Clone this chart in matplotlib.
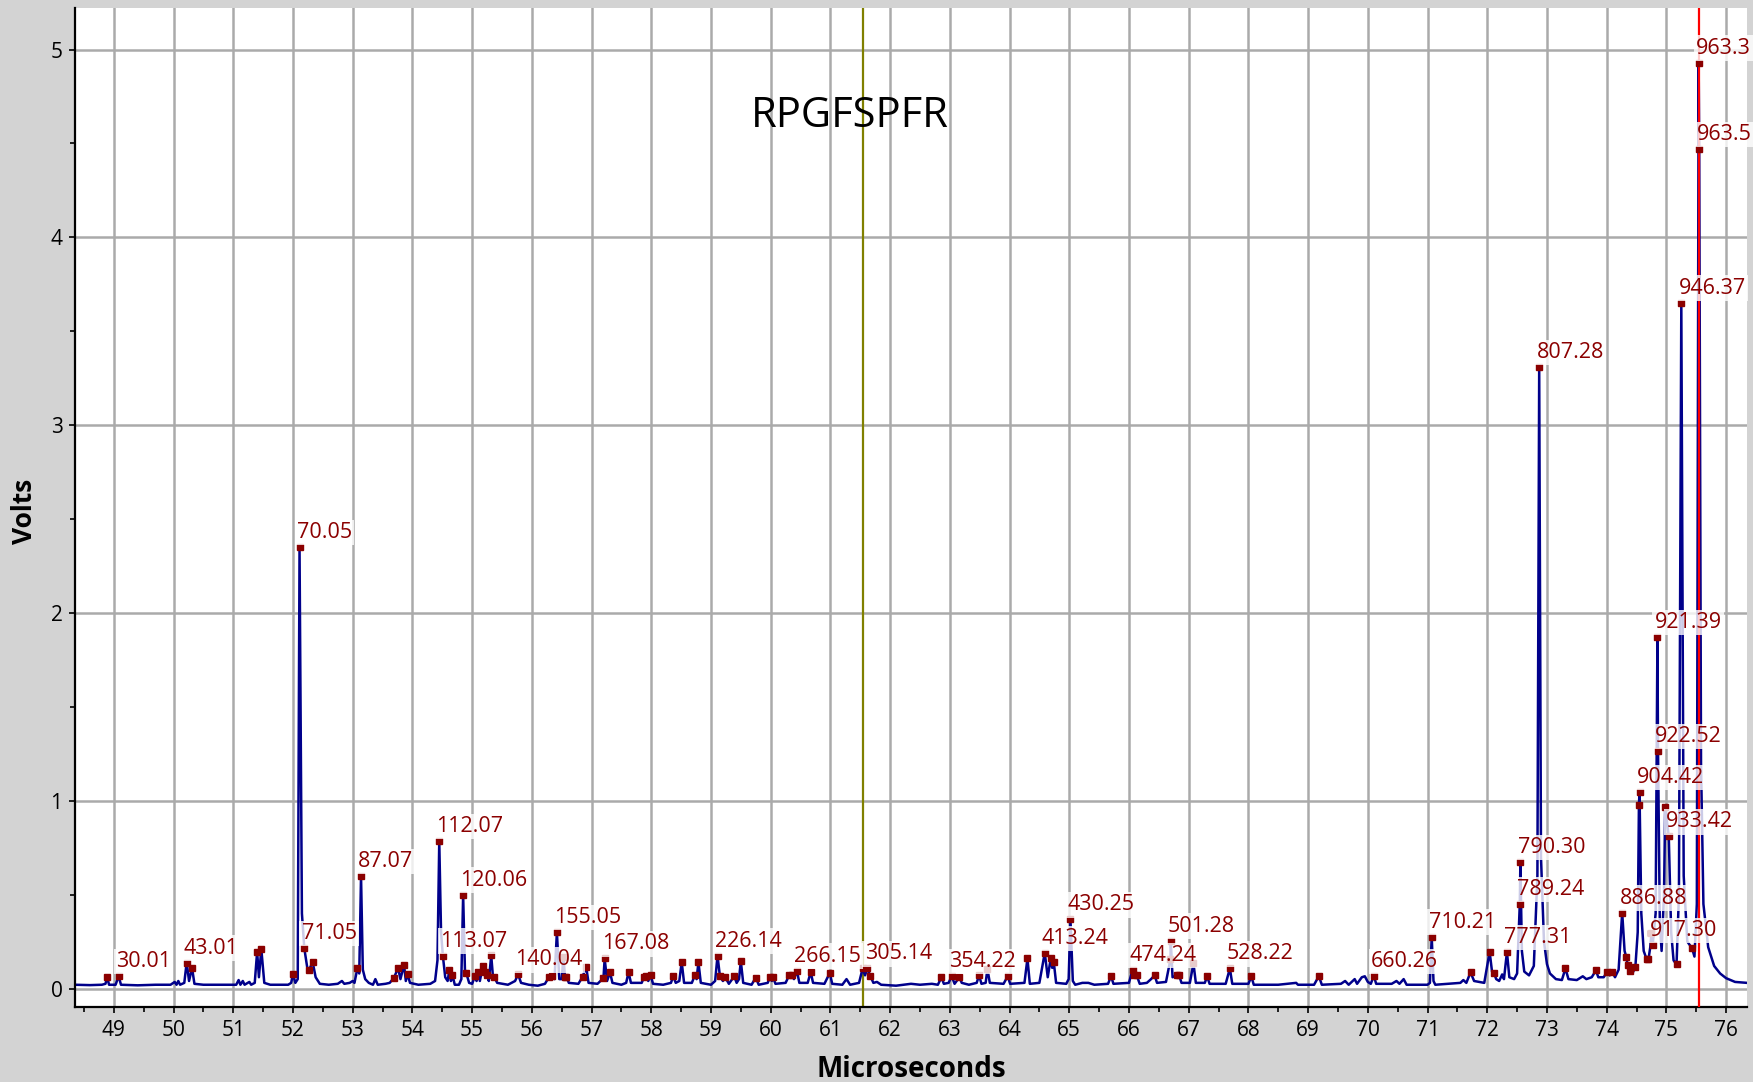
import matplotlib
matplotlib.use("Agg")
import matplotlib.pyplot as plt
from matplotlib.ticker import MultipleLocator

plt.rcParams['font.family'] = ['Open Sans', 'DejaVu Sans']

# ---------------- data ----------------
title_text = "RPGFSPFR"
x_label = "Microseconds"
y_label = "Volts"

# spectrum trace (microseconds, volts)
trace_points = [
    (48.35, 0.02), (48.60, 0.018), (48.80, 0.02), (48.86, 0.025), (48.89, 0.06), (48.92, 0.02),
    (49.03, 0.02), (49.08, 0.066), (49.12, 0.02), (49.40, 0.017), (49.70, 0.02), (49.95, 0.02),
    (50.02, 0.035), (50.05, 0.02), (50.08, 0.04), (50.11, 0.02), (50.18, 0.03), (50.22, 0.138),
    (50.26, 0.04), (50.31, 0.11), (50.35, 0.025), (50.50, 0.02), (50.80, 0.02), (51.05, 0.02),
    (51.09, 0.045), (51.12, 0.02), (51.16, 0.04), (51.19, 0.02), (51.27, 0.035), (51.30, 0.02),
    (51.36, 0.03), (51.40, 0.196), (51.43, 0.06), (51.47, 0.21), (51.52, 0.03), (51.62, 0.02),
    (51.92, 0.02), (51.97, 0.03), (52.00, 0.077), (52.04, 0.03), (52.08, 0.05), (52.11, 2.35),
    (52.15, 0.40), (52.19, 0.214), (52.24, 0.11), (52.27, 0.10), (52.33, 0.141), (52.38, 0.06),
    (52.45, 0.025), (52.60, 0.02), (52.75, 0.025), (52.82, 0.04), (52.86, 0.025), (52.95, 0.03),
    (53.00, 0.04), (53.03, 0.03), (53.08, 0.109), (53.11, 0.08), (53.14, 0.60), (53.17, 0.10),
    (53.21, 0.05), (53.27, 0.03), (53.34, 0.02), (53.38, 0.05), (53.42, 0.02), (53.55, 0.025),
    (53.62, 0.03), (53.69, 0.056), (53.76, 0.109), (53.80, 0.05), (53.86, 0.127), (53.89, 0.04),
    (53.92, 0.077), (53.96, 0.03), (54.10, 0.02), (54.30, 0.025), (54.38, 0.04), (54.42, 0.15),
    (54.45, 0.786), (54.48, 0.30), (54.51, 0.175), (54.55, 0.06), (54.59, 0.04), (54.62, 0.10),
    (54.645, 0.04), (54.67, 0.072), (54.71, 0.02), (54.78, 0.02), (54.82, 0.05), (54.85, 0.50),
    (54.88, 0.10), (54.90, 0.085), (54.95, 0.03), (55.00, 0.025), (55.05, 0.067), (55.075, 0.04),
    (55.10, 0.088), (55.13, 0.04), (55.18, 0.12), (55.21, 0.088), (55.25, 0.07), (55.28, 0.04),
    (55.32, 0.177), (55.35, 0.06), (55.37, 0.062), (55.42, 0.03), (55.60, 0.02), (55.72, 0.04),
    (55.77, 0.075), (55.82, 0.03), (55.95, 0.02), (56.10, 0.015), (56.22, 0.025), (56.29, 0.062),
    (56.34, 0.066), (56.38, 0.05), (56.42, 0.30), (56.46, 0.05), (56.50, 0.05), (56.53, 0.17),
    (56.555, 0.06), (56.58, 0.062), (56.62, 0.03), (56.78, 0.025), (56.85, 0.062), (56.91, 0.117),
    (56.95, 0.03), (57.10, 0.025), (57.20, 0.055), (57.22, 0.16), (57.26, 0.04), (57.31, 0.086),
    (57.35, 0.03), (57.50, 0.02), (57.58, 0.03), (57.62, 0.087), (57.66, 0.03), (57.84, 0.03),
    (57.88, 0.06), (57.92, 0.065), (57.95, 0.04), (57.99, 0.07), (58.03, 0.025), (58.20, 0.02),
    (58.33, 0.03), (58.37, 0.066), (58.41, 0.03), (58.47, 0.04), (58.51, 0.141), (58.55, 0.03),
    (58.68, 0.03), (58.73, 0.07), (58.76, 0.05), (58.79, 0.141), (58.83, 0.03), (59.00, 0.02),
    (59.07, 0.04), (59.11, 0.175), (59.15, 0.065), (59.20, 0.04), (59.24, 0.06), (59.30, 0.025),
    (59.39, 0.065), (59.43, 0.03), (59.47, 0.05), (59.50, 0.146), (59.54, 0.03), (59.68, 0.02),
    (59.75, 0.058), (59.80, 0.02), (59.95, 0.03), (59.99, 0.06), (60.02, 0.04), (60.04, 0.06),
    (60.08, 0.025), (60.25, 0.03), (60.31, 0.07), (60.35, 0.07), (60.39, 0.05), (60.44, 0.095),
    (60.48, 0.03), (60.62, 0.03), (60.67, 0.087), (60.71, 0.03), (60.90, 0.025), (60.99, 0.083),
    (61.03, 0.025), (61.20, 0.02), (61.27, 0.05), (61.33, 0.02), (61.48, 0.03), (61.54, 0.107),
    (61.58, 0.07), (61.62, 0.107), (61.67, 0.066), (61.72, 0.03), (61.78, 0.035), (61.85, 0.02),
    (62.10, 0.015), (62.35, 0.025), (62.50, 0.02), (62.70, 0.025), (62.80, 0.02), (62.86, 0.06),
    (62.90, 0.025), (62.98, 0.03), (63.03, 0.066), (63.08, 0.025), (63.16, 0.06), (63.20, 0.03),
    (63.32, 0.02), (63.45, 0.03), (63.49, 0.07), (63.53, 0.025), (63.60, 0.03), (63.63, 0.104),
    (63.67, 0.03), (63.90, 0.025), (63.97, 0.066), (64.01, 0.025), (64.25, 0.03), (64.30, 0.16),
    (64.34, 0.025), (64.50, 0.03), (64.59, 0.19), (64.64, 0.06), (64.69, 0.16), (64.715, 0.11),
    (64.74, 0.143), (64.78, 0.03), (64.95, 0.025), (64.99, 0.05), (65.02, 0.368), (65.06, 0.04),
    (65.10, 0.02), (65.22, 0.03), (65.32, 0.03), (65.42, 0.02), (65.65, 0.025), (65.70, 0.066),
    (65.74, 0.025), (66.00, 0.03), (66.06, 0.10), (66.09, 0.07), (66.13, 0.07), (66.18, 0.025),
    (66.30, 0.03), (66.37, 0.05), (66.43, 0.07), (66.47, 0.03), (66.62, 0.035), (66.695, 0.155),
    (66.70, 0.255), (66.73, 0.06), (66.80, 0.07), (66.84, 0.07), (66.88, 0.03), (67.02, 0.03),
    (67.08, 0.134), (67.12, 0.03), (67.27, 0.03), (67.31, 0.064), (67.35, 0.025), (67.62, 0.025),
    (67.69, 0.107), (67.73, 0.025), (68.00, 0.025), (68.05, 0.064), (68.09, 0.02), (68.50, 0.02),
    (68.80, 0.03), (68.83, 0.02), (69.10, 0.02), (69.18, 0.066), (69.23, 0.02), (69.55, 0.025),
    (69.62, 0.04), (69.68, 0.02), (69.78, 0.05), (69.82, 0.025), (69.90, 0.06), (69.95, 0.065),
    (70.00, 0.035), (70.05, 0.025), (70.10, 0.068), (70.14, 0.025), (70.40, 0.025), (70.48, 0.04),
    (70.53, 0.025), (70.60, 0.05), (70.65, 0.02), (71.00, 0.02), (71.04, 0.03), (71.07, 0.276),
    (71.10, 0.04), (71.13, 0.02), (71.55, 0.03), (71.60, 0.045), (71.65, 0.03), (71.72, 0.086),
    (71.78, 0.04), (71.95, 0.03), (72.04, 0.196), (72.08, 0.09), (72.11, 0.085), (72.15, 0.05),
    (72.20, 0.04), (72.25, 0.075), (72.28, 0.05), (72.33, 0.195), (72.37, 0.06), (72.45, 0.05),
    (72.50, 0.08), (72.545, 0.45), (72.555, 0.674), (72.58, 0.20), (72.62, 0.09), (72.70, 0.07),
    (72.78, 0.12), (72.84, 0.60), (72.87, 3.31), (72.90, 0.70), (72.95, 0.25), (73.00, 0.13),
    (73.05, 0.08), (73.15, 0.05), (73.25, 0.045), (73.31, 0.107), (73.36, 0.05), (73.50, 0.045),
    (73.60, 0.065), (73.66, 0.05), (73.75, 0.06), (73.82, 0.096), (73.86, 0.06), (73.95, 0.06),
    (74.01, 0.09), (74.05, 0.07), (74.09, 0.09), (74.14, 0.06), (74.20, 0.10), (74.26, 0.404),
    (74.30, 0.20), (74.33, 0.166), (74.35, 0.125), (74.39, 0.095), (74.43, 0.08), (74.48, 0.113),
    (74.52, 0.30), (74.54, 0.977), (74.55, 1.045), (74.58, 0.40), (74.62, 0.20), (74.67, 0.155),
    (74.70, 0.155), (74.73, 0.22), (74.75, 0.295), (74.77, 0.23), (74.82, 0.40), (74.85, 1.873),
    (74.86, 1.266), (74.89, 0.35), (74.92, 0.20), (74.96, 0.50), (74.98, 0.965), (75.04, 0.81),
    (75.08, 0.30), (75.12, 0.15), (75.17, 0.128), (75.21, 0.50), (75.25, 3.652), (75.29, 0.60),
    (75.35, 0.25), (75.43, 0.214), (75.47, 0.17), (75.51, 0.45), (75.54, 4.93), (75.55, 4.47),
    (75.58, 1.20), (75.62, 0.45), (75.70, 0.22), (75.80, 0.12), (75.90, 0.08), (76.00, 0.055),
    (76.15, 0.035), (76.35, 0.03),
]

# picked peaks (square markers)
marker_us = [48.89, 49.08, 50.22, 50.31, 51.40, 51.47, 52.00, 52.11, 52.19, 52.27, 52.33, 53.08,
             53.14, 53.69, 53.76, 53.86, 53.92, 54.45, 54.51, 54.62, 54.67, 54.85, 54.90, 55.05,
             55.10, 55.18, 55.21, 55.25, 55.32, 55.37, 55.77, 56.29, 56.34, 56.42, 56.53, 56.555,
             56.58, 56.85, 56.91, 57.20, 57.22, 57.31, 57.62, 57.88, 57.92, 57.99, 58.37, 58.51,
             58.73, 58.79, 59.11, 59.15, 59.24, 59.39, 59.50, 59.75, 59.99, 60.04, 60.31, 60.35,
             60.44, 60.67, 60.99, 61.54, 61.62, 61.67, 62.86, 63.03, 63.16, 63.49, 63.63, 63.97,
             64.30, 64.59, 64.69, 64.74, 65.02, 65.70, 66.06, 66.09, 66.13, 66.43, 66.70, 66.695,
             66.80, 66.84, 67.08, 67.31, 67.69, 68.05, 69.18, 70.10, 71.07, 71.72, 72.04, 72.11,
             72.33, 72.545, 72.555, 72.87, 73.31, 73.82, 74.01, 74.09, 74.26, 74.33, 74.35, 74.39,
             74.48, 74.54, 74.55, 74.67, 74.70, 74.75, 74.77, 74.85, 74.86, 74.98, 75.04, 75.17,
             75.25, 75.43, 75.54, 75.55]
marker_v = [0.06, 0.066, 0.138, 0.11, 0.196, 0.21, 0.077, 2.35, 0.214, 0.10, 0.141, 0.109,
            0.60, 0.056, 0.109, 0.127, 0.077, 0.786, 0.175, 0.10, 0.072, 0.50, 0.085, 0.067,
            0.088, 0.12, 0.088, 0.07, 0.177, 0.062, 0.075, 0.062, 0.066, 0.30, 0.17, 0.06,
            0.062, 0.062, 0.117, 0.055, 0.16, 0.086, 0.087, 0.06, 0.065, 0.07, 0.066, 0.141,
            0.07, 0.141, 0.175, 0.065, 0.06, 0.065, 0.146, 0.058, 0.06, 0.06, 0.07, 0.07,
            0.095, 0.087, 0.083, 0.107, 0.107, 0.066, 0.06, 0.066, 0.06, 0.07, 0.104, 0.066,
            0.16, 0.19, 0.16, 0.143, 0.368, 0.066, 0.10, 0.07, 0.07, 0.07, 0.255, 0.155,
            0.07, 0.07, 0.134, 0.064, 0.107, 0.064, 0.066, 0.068, 0.276, 0.086, 0.196, 0.085,
            0.195, 0.45, 0.674, 3.31, 0.107, 0.096, 0.09, 0.09, 0.404, 0.166, 0.125, 0.095,
            0.113, 0.977, 1.045, 0.155, 0.155, 0.295, 0.23, 1.873, 1.266, 0.965, 0.81, 0.128,
            3.652, 0.214, 4.93, 4.47]

# peak labels (mass) attached to markers
label_text = ["30.01", "43.01", "70.05", "71.05", "87.07", "112.07", "113.07", "120.06",
              "140.04", "155.05", "167.08", "226.14", "266.15", "305.14", "354.22", "413.24",
              "430.25", "474.24", "501.28", "528.22", "660.26", "710.21", "777.31", "789.24",
              "790.30", "807.28", "886.88", "904.42", "917.30", "921.39", "922.52", "933.42",
              "946.37", "963.3", "963.5"]
label_us = [49.08, 50.22, 52.11, 52.19, 53.14, 54.45, 54.51, 54.85,
            55.77, 56.42, 57.22, 59.11, 60.44, 61.62, 63.03, 64.59,
            65.02, 66.06, 66.70, 67.69, 70.10, 71.07, 72.33, 72.545,
            72.555, 72.87, 74.26, 74.55, 74.77, 74.85, 74.86, 75.04,
            75.25, 75.54, 75.55]
label_v = [0.066, 0.138, 2.35, 0.214, 0.60, 0.786, 0.175, 0.50,
           0.075, 0.30, 0.16, 0.175, 0.095, 0.107, 0.066, 0.19,
           0.368, 0.10, 0.255, 0.107, 0.068, 0.276, 0.195, 0.45,
           0.674, 3.31, 0.404, 1.045, 0.23, 1.873, 1.266, 0.81,
           3.652, 4.93, 4.47]

cursor_olive = 61.55
cursor_red = 75.55
x_ticks = list(range(49, 77))
y_ticks = [0, 1, 2, 3, 4, 5]

# ---------------- figure ----------------
W, H = 1753, 1082
fig = plt.figure(figsize=(W / 100, H / 100), dpi=100, facecolor='#d3d3d3')
ax = fig.add_axes([75 / W, 1 - 1007 / H, 1672 / W, 999 / H])
ax.set_facecolor('white')

ax.set_xlim(48.35, 76.35)
ax.set_ylim(-0.0985, 5.221)
ax.set_xticks(x_ticks)
ax.set_yticks(y_ticks)
ax.xaxis.set_minor_locator(MultipleLocator(0.5))
ax.yaxis.set_minor_locator(MultipleLocator(0.5))
ax.grid(which='major', color='#aaaaaa', linewidth=1.8)
ax.set_axisbelow(True)

for s in ('top', 'right'):
    ax.spines[s].set_visible(False)
for s in ('left', 'bottom'):
    ax.spines[s].set_color('black')
    ax.spines[s].set_linewidth(1.6)

ax.tick_params(which='major', direction='out', length=4, width=1.2, colors='black',
               labelsize=15, pad=5)
ax.tick_params(which='minor', direction='out', length=3.5, width=1.2, colors='black')

tx, ty = zip(*trace_points)
ax.axvline(cursor_olive, color='#808000', linewidth=1.6, zorder=1.5)
ax.plot(tx, ty, color='#00008b', linewidth=1.8, zorder=2)
ax.axvline(cursor_red, color='#ff0000', linewidth=1.6, zorder=3)
ax.plot(marker_us, marker_v, linestyle='none', marker='s', markersize=5,
        color='#8b0000', zorder=4)

for t, x, y in zip(label_text, label_us, label_v):
    ax.annotate(t, (x, y), xytext=(-2.0, 6.5), textcoords='offset points',
                ha='left', va='baseline', fontsize=15.5, color='#8b0000',
                bbox=dict(boxstyle='square,pad=0.1', fc='white', ec='none', alpha=0.8),
                zorder=5)

ax.text(61.32, 4.59, title_text, fontsize=30, ha='center', va='baseline', color='black',
        zorder=6)

fig.text(911 / W, 1 - 1076.7 / H, x_label, fontsize=20, fontweight='bold',
         ha='center', va='baseline')
fig.text(24.6 / W, 1 - 511 / H, y_label, fontsize=19, fontweight='bold',
         ha='center', va='center', rotation=90)

fig.savefig('out.png', dpi=100, facecolor=fig.get_facecolor())
